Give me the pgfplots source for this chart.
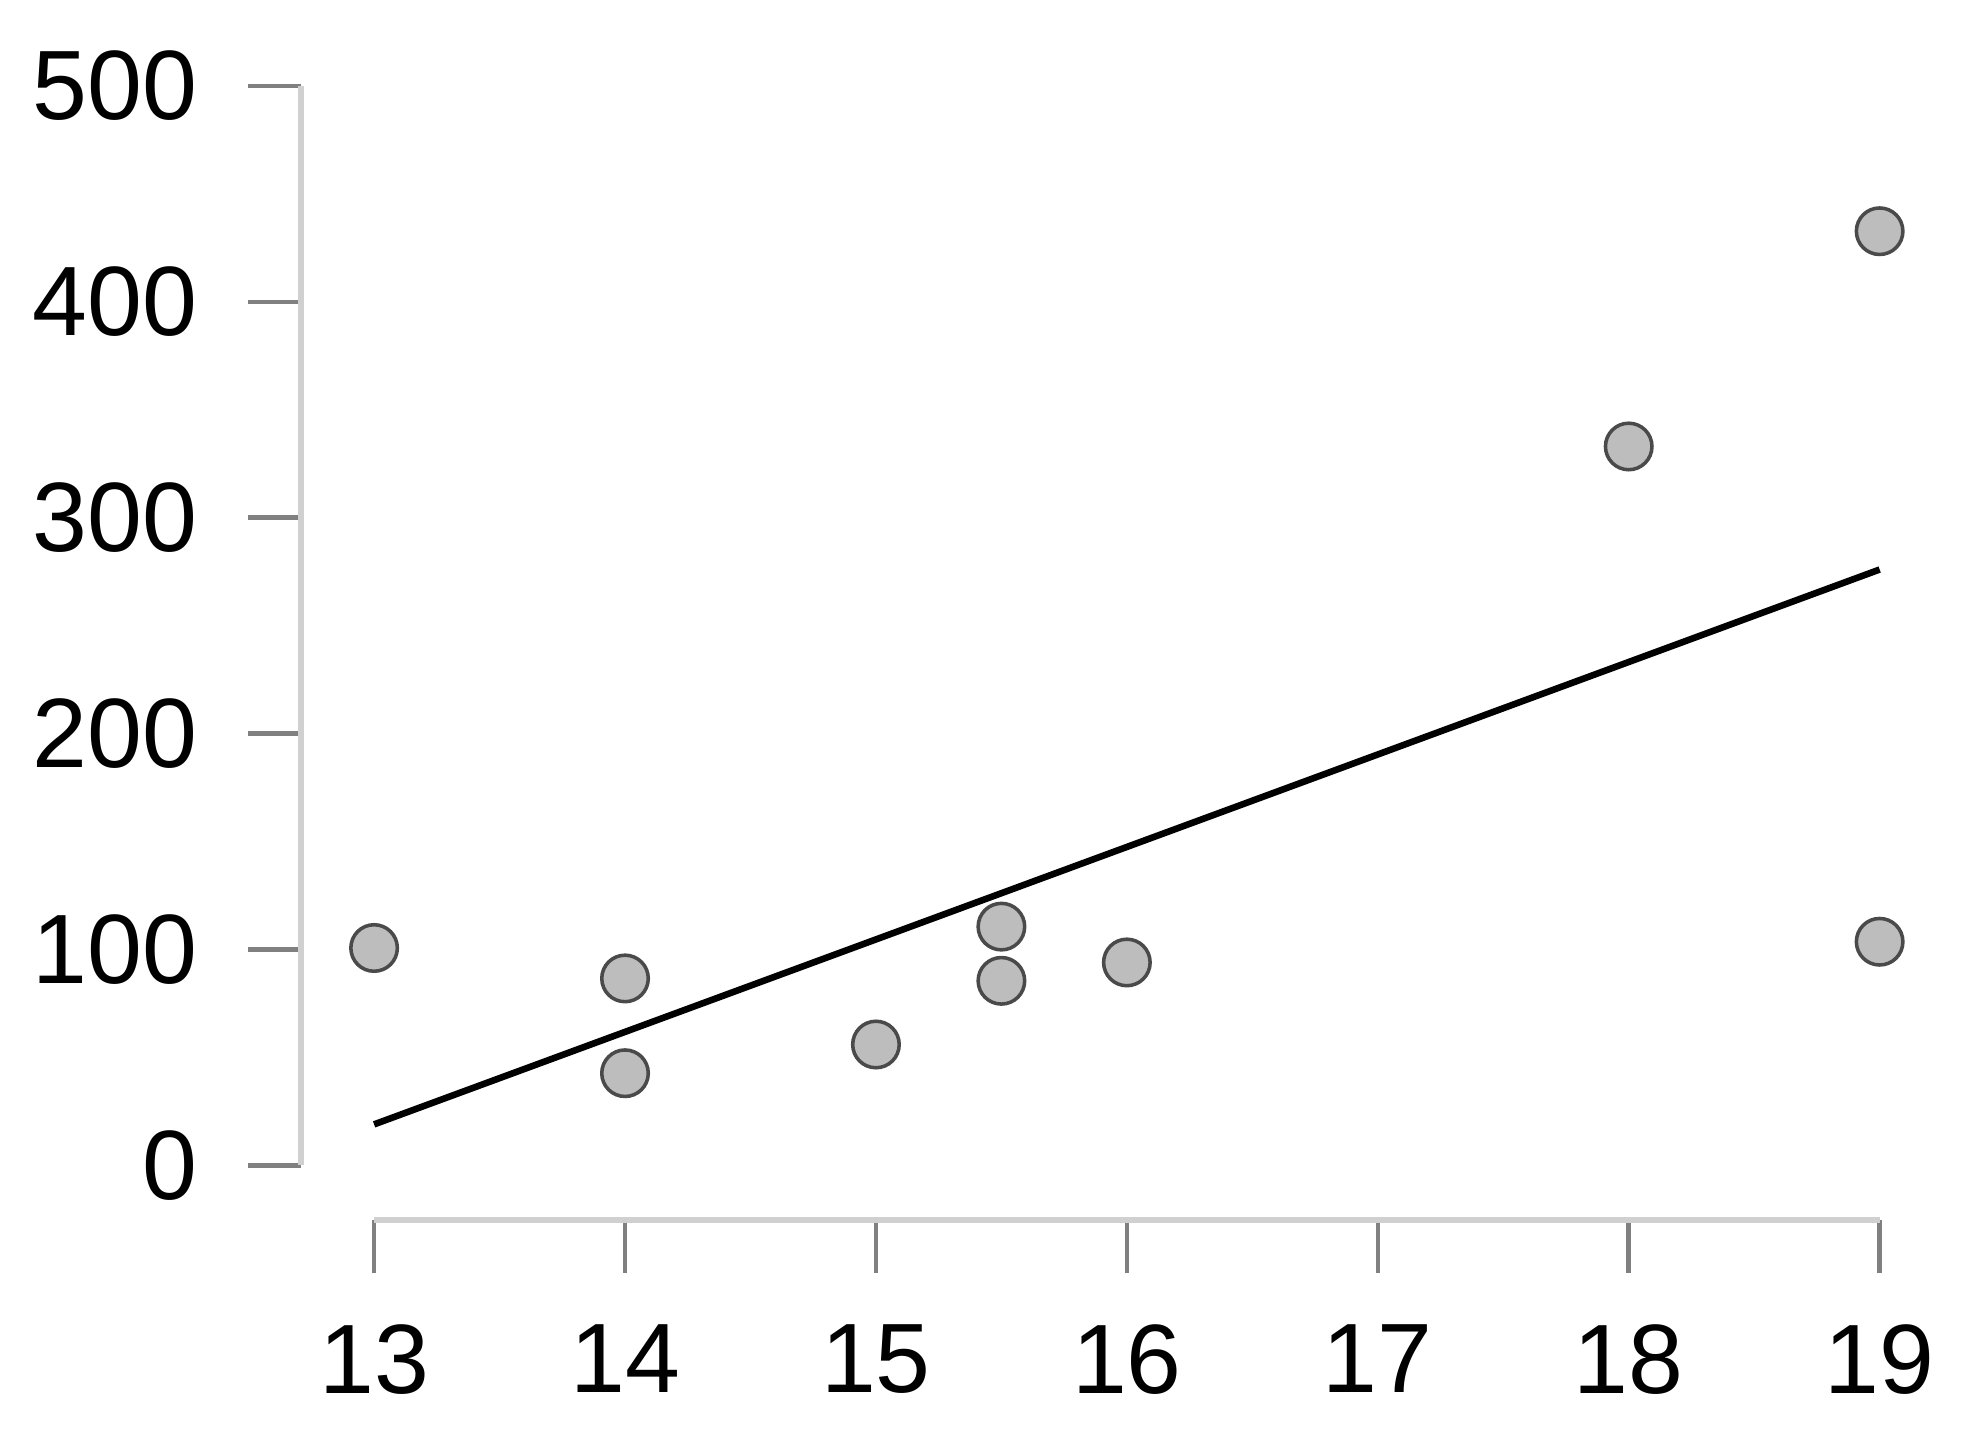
\documentclass[border=0pt]{standalone}
\usepackage{pgfplots}
\pgfplotsset{compat=1.18}
\usepackage{fontspec}
\setmainfont{Liberation Sans}
\definecolor{axgray}{HTML}{D0D0D0}
\definecolor{tickgray}{HTML}{808080}
\definecolor{ptfill}{HTML}{BDBDBD}
\definecolor{ptedge}{HTML}{4A4A4A}
\begin{document}
\begin{tikzpicture}
\begin{axis}[name=ax, scale only axis, width=312.25pt, height=224.25pt,
 xmin=12.708, xmax=19, ymin=-25.2, ymax=500, clip=false,
 axis lines*=left, axis line style={draw=none},
 xtick={13,...,19}, ytick={0,100,...,500},
 tick align=outside, major tick length=10.5pt,
 tick style={draw=tickgray, line width=0.9pt},
 /pgf/number format/assume math mode=true,
 tick label style={font=\fontsize{19.5}{19.5}\selectfont},
 xticklabel style={inner sep=0pt, yshift=-10pt},
 yticklabel style={inner sep=0pt, xshift=-9.75pt},
 ]
\draw[axgray, line width=1.2pt] (axis cs:12.708,0) -- (axis cs:12.708,500);
\draw[axgray, line width=1.2pt] (axis cs:13,-25.2) -- (axis cs:19,-25.2);
\addplot[black, line width=1.3pt] coordinates {(13,19) (19,276)};
\addplot[only marks, mark=*, mark size=4.6pt, mark options={fill=ptfill, draw=ptedge, line width=0.7pt}] coordinates {
(13,100.7) (14,86.6) (14,42.7) (15,56) (15.5,110.6) (15.5,85.5) (16,94) (18,333) (19,432.7) (19,103.6)};
\end{axis}
\pgfresetboundingbox
\path ([shift={(-59.5pt,-42.25pt)}]ax.south west) rectangle ([shift={(20.25pt,17pt)}]ax.north east);
\end{tikzpicture}
\end{document}
